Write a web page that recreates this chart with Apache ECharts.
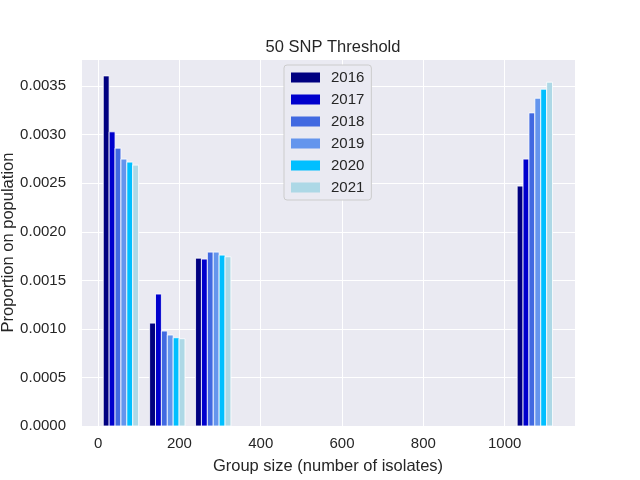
<!DOCTYPE html>
<html>
<head>
<meta charset="utf-8">
<script src="https://cdn.jsdelivr.net/npm/echarts@6/dist/echarts.min.js"></script>
<style>html,body{margin:0;padding:0;background:#fff}#c{width:640px;height:480px}</style>
</head>
<body>
<div id="c"></div>
<script>
// ---- data ----
var years = ['2016', '2017', '2018', '2019', '2020', '2021'];
var groupX = [20, 134, 247, 1038];          // x of the first (2016) bar in each group
var barStep = 14.5;                           // bar width in data units
var v2016 = [0.003606, 0.001060, 0.001729, 0.002471];
var v2017 = [0.003030, 0.001359, 0.001719, 0.002749];
var v2018 = [0.002862, 0.000978, 0.001791, 0.003225];
var v2019 = [0.002749, 0.000937, 0.001791, 0.003376];
var v2020 = [0.002718, 0.000909, 0.001760, 0.003469];
var v2021 = [0.002687, 0.000899, 0.001743, 0.003541];
var yTicks = [0, 0.0005, 0.001, 0.0015, 0.002, 0.0025, 0.003, 0.0035];
var xTicks = [0, 200, 400, 600, 800, 1000];

var values = [v2016, v2017, v2018, v2019, v2020, v2021];
var colors = ['#000080', '#0000CD', '#4169E1', '#6495ED', '#00BFFF', '#ADD8E6'];
var font = 'Liberation Sans, Arial, sans-serif';
var txt = '#262626';

function renderBar(params, api) {
  var x = api.value(0), y = api.value(1);
  var p0 = api.coord([x - barStep / 2, y]);
  var p1 = api.coord([x + barStep / 2, 0]);
  return {
    type: 'rect',
    shape: { x: p0[0], y: p0[1], width: p1[0] - p0[0], height: p1[1] - p0[1] },
    style: { fill: api.visual('color'), stroke: '#ffffff', lineWidth: 0.8 }
  };
}

var series = years.map(function (yr, i) {
  return {
    name: yr,
    type: 'custom',
    color: colors[i],
    renderItem: renderBar,
    encode: { x: 0, y: 1 },
    data: groupX.map(function (gx, j) { return [gx + i * barStep, values[i][j]]; })
  };
});

function fmt(list, dec) {
  return function (v) {
    for (var k = 0; k < list.length; k++) { if (Math.abs(v - list[k]) < 1e-9) return list[k].toFixed(dec); }
    return '';
  };
}

var chart = echarts.init(document.getElementById('c'), null, { renderer: 'canvas' });
chart.setOption({
  animation: false,
  backgroundColor: '#ffffff',
  textStyle: { fontFamily: font },
  title: {
    text: '50 SNP Threshold',
    left: 328, top: 34, textAlign: 'center',
    textStyle: { fontFamily: font, fontSize: 16.5, fontWeight: 'normal', color: txt }
  },
  grid: {
    left: 81, right: 65, top: 59, bottom: 54,
    containLabel: false, outerBoundsMode: 'none',
    show: true, backgroundColor: '#EAEAF2', borderWidth: 0
  },
  legend: {
    orient: 'vertical', left: 284, top: 65,
    data: years.map(function (y, i) { return { name: y, icon: 'rect', itemStyle: { color: colors[i] } }; }),
    itemWidth: 29, itemHeight: 10, itemGap: 7,
    padding: [5, 7, 5, 7],
    backgroundColor: '#EAEAF2', borderColor: '#cccccc', borderWidth: 1, borderRadius: 3,
    textStyle: { fontFamily: font, fontSize: 15, color: txt, padding: [0, 0, 0, 6] }
  },
  xAxis: {
    type: 'value', min: -42, max: 1173,
    name: 'Group size (number of isolates)', nameLocation: 'middle', nameGap: 32, nameMoveOverlap: false,
    nameTextStyle: { fontFamily: font, fontSize: 16.5, color: txt },
    axisLine: { show: false }, axisTick: { show: false },
    axisLabel: { fontFamily: font, fontSize: 15, color: txt, margin: 10, showMinLabel: false, showMaxLabel: false,
      formatter: fmt(xTicks, 0) },
    splitLine: { show: true, lineStyle: { color: '#ffffff', width: 1 } }
  },
  yAxis: {
    type: 'value', min: 0, max: 0.00378, interval: 0.0005,
    name: 'Proportion on population', nameLocation: 'middle', nameGap: 64, nameMoveOverlap: false,
    nameTextStyle: { fontFamily: font, fontSize: 16.5, color: txt },
    axisLine: { show: false }, axisTick: { show: false },
    axisLabel: {
      fontFamily: font, fontSize: 15, color: txt, margin: 15, showMaxLabel: false,
      formatter: fmt(yTicks, 4)
    },
    splitLine: { show: true, lineStyle: { color: '#ffffff', width: 1 } }
  },
  series: series
});
</script>
</body>
</html>
